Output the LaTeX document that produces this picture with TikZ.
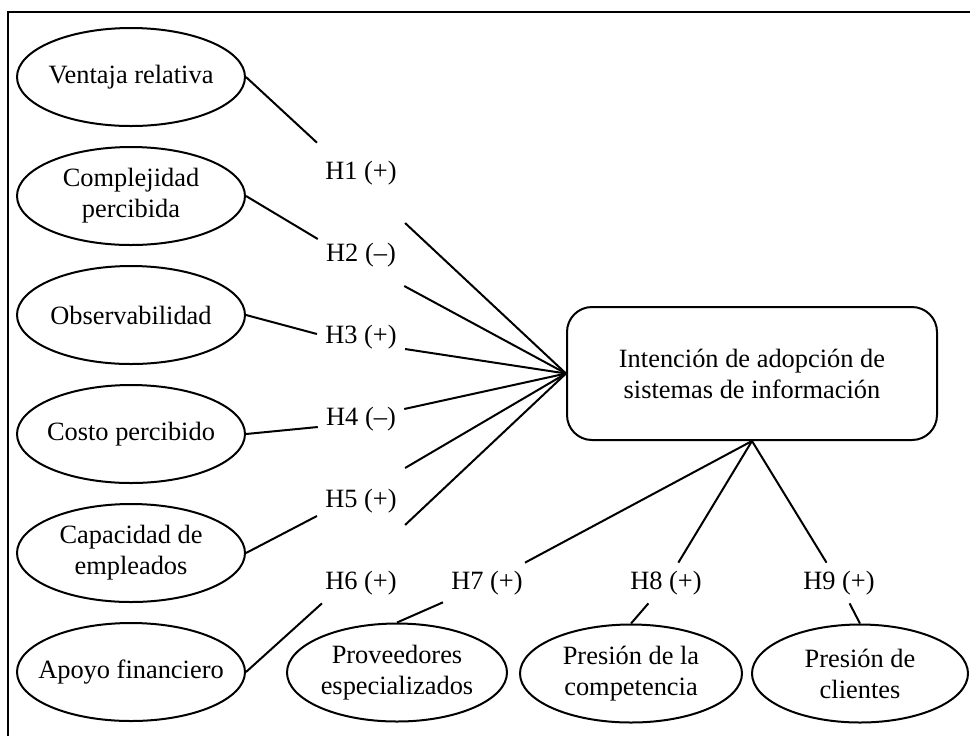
\documentclass[tikz,border=0pt]{standalone}
\usepackage{fontspec}
\setmainfont{Liberation Serif}
\usetikzlibrary{shapes,positioning}

\begin{document}
\begin{tikzpicture}[%
    x=0.5pt, y=-0.5pt,             % one unit is one pixel of the scan, y goes down
    node distance=59.5pt and 60pt, % spacing of the factor column
    every node/.style={font=\fontsize{13.2}{15.5}\selectfont},
    ]
\tikzset{
  base/.style={draw, line width=1pt, align=center, on grid},
  factor/.style={base, ellipse, inner xsep=-15pt, inner ysep=0pt, minimum width=114pt, minimum height=49pt},
  target/.style={base, rectangle, rounded corners=12.5pt, minimum width=185pt, minimum height=66.5pt},
  hyp/.style={on grid, inner sep=4pt},
  link/.style={line width=1pt},
}

\useasboundingbox (0,0) rectangle (970,736);
\draw [line width=1.2pt] (8,736) -- (8,12) -- (970,12);

\node [factor] (f1) at (131,77) {Ventaja relativa};
\node [factor,below=of f1] (f2) {Complejidad\\percibida};
\node [factor,below=of f2] (f3) {Observabilidad};
\node [factor,below=of f3] (f4) {Costo percibido};
\node [factor,below=of f4] (f5) {Capacidad de\\empleados};
\node [factor,below=of f5] (f6) {Apoyo financiero};

\node [hyp] (h1) at (361,173) {H1 (+)};
\node [hyp,below=41pt of h1] (h2) {H2 (–)};
\node [hyp,below=41pt of h2] (h3) {H3 (+)};
\node [hyp,below=41pt of h3] (h4) {H4 (–)};
\node [hyp,below=41pt of h4] (h5) {H5 (+)};
\node [hyp,below=41pt of h5] (h6) {H6 (+)};

\node [target] (t0) at (752,373.5) {Intención de adopción de\\sistemas de información};

\node [hyp] (h7) at (487,583) {H7 (+)};
\node [hyp] (h8) at (666,583) {H8 (+)};
\node [hyp] (h9) at (839,583) {H9 (+)};

\node [factor,minimum width=110pt] (f7) at (397,672.5) {Proveedores\\especializados};
\node [factor,minimum width=111pt] (f8) at (631,673.5) {Presión de la\\competencia};
\node [factor,minimum width=108pt] (f9) at (860,673.5) {Presión de\\clientes};

%connect
\draw [link] (f1.east) -- ([yshift=5pt]h1.north west);
\draw [link] (f2.east) -- ([yshift=8pt]h2.west);
\draw [link] (f3.east) -- ([yshift=1.5pt]h3.west);
\draw [link] (f4.east) -- ([yshift=-4pt]h4.west);
\draw [link] (f5.east) -- ([yshift=-7.5pt]h5.west);
\draw [link] (f6.east) -- ([xshift=2.5pt]h6.south west);

\draw [link] ([yshift=-25pt]h1.east) -- (t0.west);
\draw [link] ([yshift=-15.5pt]h2.east) -- (t0.west);
\draw [link] ([yshift=-6pt]h3.east) -- (t0.west);
\draw [link] ([yshift=5pt]h4.east) -- (t0.west);
\draw [link] ([yshift=16.5pt]h5.east) -- (t0.west);
\draw [link] ([yshift=29pt]h6.east) -- (t0.west);

\draw [link] (t0.south) -- (h7);
\draw [link] (t0.south) -- (h8);
\draw [link] (t0.south) -- (h9);
\draw [link] (h7) -- (f7.north);
\draw [link] (h8) -- (f8.north);
\draw [link] (h9) -- (f9.north);

\end{tikzpicture}
\end{document}
